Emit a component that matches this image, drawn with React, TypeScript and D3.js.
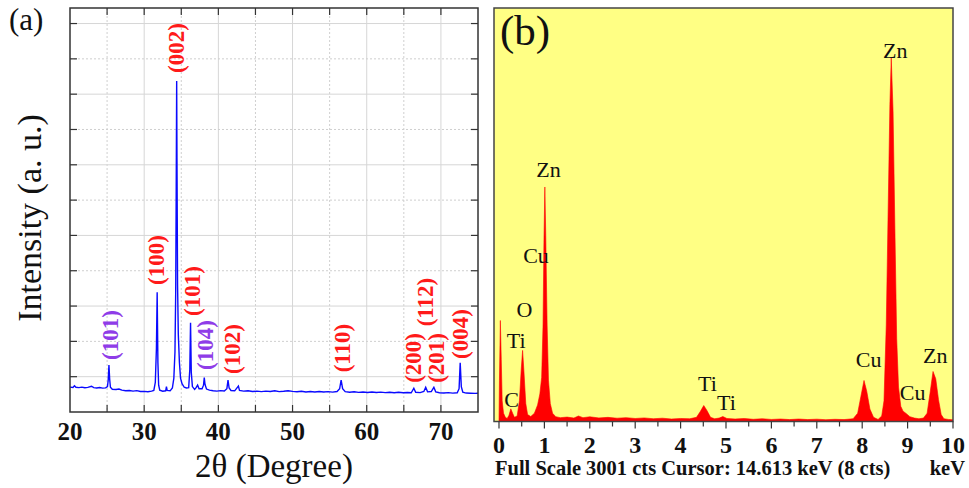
import React from 'react';
import * as d3 from 'd3';

// ---- panel (a): XRD pattern, [2theta, intensity a.u.]
const xrdPoints: [number, number][] = [
  [20.0, 352], [20.4, 348], [20.6, 372], [20.8, 350], [21.2, 345], [21.6, 352], [22.0, 343],
  [22.4, 348], [22.9, 365], [23.2, 345], [23.6, 340], [24.0, 347], [24.4, 338], [24.8, 342],
  [25.05, 360], [25.15, 450], [25.25, 665], [25.35, 460], [25.45, 350], [25.7, 322], [26.2, 318],
  [26.6, 325], [27.0, 310], [27.5, 300], [28.0, 305], [28.5, 296], [29.0, 302], [29.5, 290],
  [30.0, 292], [30.5, 286], [31.0, 295], [31.3, 305], [31.5, 420], [31.65, 900], [31.75, 1695],
  [31.85, 700], [31.95, 380], [32.1, 310], [32.5, 295], [32.9, 300], [33.0, 360], [33.1, 305],
  [33.5, 300], [33.8, 340], [34.0, 480], [34.15, 850], [34.25, 1700], [34.32, 3200], [34.38, 4686],
  [34.42, 3600], [34.5, 1800], [34.6, 1100], [34.75, 700], [34.9, 480], [35.1, 400], [35.4, 350],
  [35.7, 340], [36.0, 345], [36.15, 600], [36.25, 1264], [36.35, 560], [36.5, 360], [36.8, 320],
  [37.0, 345], [37.2, 380], [37.4, 330], [37.8, 330], [38.0, 380], [38.1, 486], [38.2, 390],
  [38.4, 325], [38.8, 310], [39.3, 300], [39.8, 295], [40.3, 302], [40.8, 298], [41.15, 330],
  [41.3, 453], [41.45, 340], [41.7, 305], [42.2, 300], [42.7, 368], [42.85, 305], [43.4, 295],
  [44.0, 300], [44.6, 290], [45.2, 296], [45.8, 288], [46.4, 295], [47.0, 290], [47.6, 300],
  [48.2, 288], [48.8, 293], [49.4, 300], [50.0, 292], [50.6, 286], [51.2, 294], [51.8, 284],
  [52.4, 290], [53.0, 283], [53.6, 291], [54.2, 284], [54.8, 288], [55.4, 282], [56.0, 290],
  [56.35, 330], [56.55, 453], [56.75, 330], [57.1, 288], [57.7, 280], [58.3, 286], [58.9, 278],
  [59.5, 284], [60.1, 277], [60.7, 283], [61.3, 276], [61.9, 282], [62.5, 275], [63.1, 280],
  [63.7, 273], [64.3, 279], [64.9, 272], [65.5, 277], [66.0, 272], [66.35, 336], [66.6, 280],
  [67.2, 274], [67.7, 290], [67.95, 350], [68.2, 285], [68.7, 290], [69.05, 350], [69.3, 285],
  [69.8, 272], [70.4, 268], [71.0, 274], [71.6, 267], [72.2, 272], [72.45, 330], [72.6, 698],
  [72.75, 360], [72.95, 280], [73.4, 268], [74.0, 266], [74.6, 264], [75.0, 265],
];

// peak labels: text, 2theta, intensity at label centre, phase (purple = TiO2)
const xrdLabels: [string, number, number, boolean][] = [
  ['(002)', 34.4, 5154, false],
  ['(100)', 31.7, 2152, false],
  ['(101)', 36.55, 1713, false],
  ['(101)', 25.5, 1090, true],
  ['(104)', 38.3, 949, true],
  ['(102)', 41.9, 892, false],
  ['(110)', 56.7, 906, false],
  ['(200)', 66.3, 765, false],
  ['(112)', 67.9, 1557, false],
  ['(201)', 69.4, 765, false],
  ['(004)', 72.6, 1104, false],
];

const xrdTickLabels = [20, 30, 40, 50, 60, 70];
const xrdMajorX = [30, 40, 50, 60, 70];
const xrdMinorX = [25, 35, 45, 55, 65];
const xrdMajorY = [500, 1500, 2500, 3500, 4500, 5500];
const xrdMinorY = [1000, 2000, 3000, 4000, 5000];

// ---- panel (b): EDS spectrum, [keV, counts]
const edsPoints: [number, number][] = [
  [0.0, 0], [0.01, 300], [0.03, 733], [0.05, 450], [0.07, 150], [0.1, 60], [0.14, 30], [0.18, 22],
  [0.22, 45], [0.26, 92], [0.3, 60], [0.34, 30], [0.4, 40], [0.45, 150], [0.49, 380], [0.52, 516],
  [0.55, 360], [0.59, 130], [0.63, 50], [0.7, 36], [0.78, 60], [0.85, 120], [0.9, 200], [0.94, 320],
  [0.97, 700], [0.99, 1300], [1.01, 1702], [1.03, 1350], [1.06, 700], [1.09, 300], [1.13, 130],
  [1.18, 60], [1.25, 35], [1.35, 28], [1.5, 32], [1.65, 25], [1.75, 40], [1.85, 28], [2.0, 34],
  [2.2, 26], [2.4, 30], [2.6, 24], [2.8, 28], [3.0, 22], [3.2, 26], [3.4, 20], [3.6, 24], [3.8, 18],
  [4.0, 22], [4.2, 20], [4.35, 30], [4.43, 70], [4.51, 116], [4.58, 80], [4.66, 30], [4.75, 20],
  [4.85, 25], [4.93, 36], [5.02, 22], [5.2, 18], [5.4, 22], [5.6, 16], [5.8, 20], [6.0, 15],
  [6.2, 18], [6.4, 14], [6.6, 18], [6.8, 14], [7.0, 17], [7.2, 13], [7.4, 16], [7.6, 14], [7.8, 20],
  [7.9, 60], [7.97, 180], [8.04, 298], [8.1, 220], [8.17, 90], [8.25, 30], [8.35, 15], [8.43, 40],
  [8.48, 150], [8.53, 700], [8.57, 1500], [8.61, 2300], [8.64, 2638], [8.68, 2250], [8.72, 1400],
  [8.76, 600], [8.8, 250], [8.85, 110], [8.9, 75], [8.96, 60], [9.05, 35], [9.15, 25], [9.25, 20],
  [9.35, 25], [9.43, 60], [9.5, 220], [9.56, 363], [9.62, 310], [9.68, 160], [9.74, 50], [9.8, 20],
  [9.9, 15], [10.0, 12],
];

// element labels: text, keV (centre), counts (baseline)
const edsLabels: [string, number, number][] = [
  ['Zn', 8.73, 2638],
  ['Zn', 1.09, 1773],
  ['Cu', 0.815, 1148],
  ['O', 0.56, 756],
  ['Ti', 0.38, 530],
  ['C', 0.28, 104],
  ['Ti', 4.59, 218],
  ['Ti', 5.01, 80],
  ['Cu', 8.14, 392],
  ['Zn', 9.61, 421],
  ['Cu', 9.11, 153],
];

const edsTicks = [0, 1, 2, 3, 4, 5, 6, 7, 8, 9, 10];
const edsMinorTicks = [0.5, 1.5, 2.5, 3.5, 4.5, 5.5, 6.5, 7.5, 8.5, 9.5];

const serif = "'Liberation Serif', 'Times New Roman', serif";

const App = () => {
  const W = 969;
  const H = 488;

  // panel (a) frame
  const aL = 70, aR = 478, aT = 8, aB = 412;
  const xA = d3.scaleLinear().domain([20, 75]).range([aL, aR]);
  const yA = d3.scaleLinear().domain([0, 5720]).range([aB, aT]);
  const xrdLine = d3.line<[number, number]>()
    .x(d => xA(d[0]))
    .y(d => yA(d[1]));

  // panel (b) frame
  const bL = 494, bR = 953, bT = 8, bB = 421.5;
  const xB = d3.scaleLinear().domain([-0.11, 10]).range([bL, bR]);
  const yB = d3.scaleLinear().domain([0, 3001]).range([bB, bT]);
  const edsArea = d3.area<[number, number]>()
    .x(d => xB(d[0]))
    .y0(yB(0))
    .y1(d => yB(d[1]));

  const tickLen = 7;
  const allXTicks = [...xrdMajorX, ...xrdMinorX];
  const allYTicks = [...xrdMajorY, ...xrdMinorY];

  return (
    <svg width={W} height={H} style={{ position: 'absolute', left: 0, top: 0, background: '#fff' }}
      fontFamily={serif}>
      <defs>
        <clipPath id="clipA"><rect x={aL} y={aT} width={aR - aL} height={aB - aT} /></clipPath>
        <clipPath id="clipB"><rect x={bL} y={bT} width={bR - bL} height={bB - bT} /></clipPath>
      </defs>

      {/* ---------- panel (a) ---------- */}
      <rect x={aL} y={aT} width={aR - aL} height={aB - aT} fill="#fff" />
      {xrdMajorX.map(v => (
        <line key={'gx' + v} x1={xA(v)} x2={xA(v)} y1={aT} y2={aB} stroke="#d6d6d6" strokeWidth={1} />
      ))}
      {xrdMinorX.map(v => (
        <line key={'mx' + v} x1={xA(v)} x2={xA(v)} y1={aT} y2={aB} stroke="#cfcfcf" strokeWidth={1} strokeDasharray="2,2" />
      ))}
      {xrdMajorY.map(v => (
        <line key={'gy' + v} x1={aL} x2={aR} y1={yA(v)} y2={yA(v)} stroke="#d6d6d6" strokeWidth={1} />
      ))}
      {xrdMinorY.map(v => (
        <line key={'my' + v} x1={aL} x2={aR} y1={yA(v)} y2={yA(v)} stroke="#cfcfcf" strokeWidth={1} strokeDasharray="2,2" />
      ))}

      <path d={xrdLine(xrdPoints) || ''} fill="none" stroke="#0a0aff" strokeWidth={1.4} clipPath="url(#clipA)" />

      {/* inward ticks on all sides */}
      {allXTicks.map(v => (
        <g key={'tx' + v} stroke="#333" strokeWidth={1.2}>
          <line x1={xA(v)} x2={xA(v)} y1={aB} y2={aB - tickLen} />
          <line x1={xA(v)} x2={xA(v)} y1={aT} y2={aT + tickLen} />
        </g>
      ))}
      {allYTicks.map(v => (
        <g key={'ty' + v} stroke="#333" strokeWidth={1.2}>
          <line x1={aL} x2={aL + tickLen} y1={yA(v)} y2={yA(v)} />
          <line x1={aR} x2={aR - tickLen} y1={yA(v)} y2={yA(v)} />
        </g>
      ))}
      <rect x={aL} y={aT} width={aR - aL} height={aB - aT} fill="none" stroke="#333" strokeWidth={1.5} />

      {xrdTickLabels.map(v => (
        <text key={'lx' + v} x={xA(v)} y={440} textAnchor="middle" fontSize={25} fontWeight="bold" fill="#111">{v}</text>
      ))}

      {xrdLabels.map(([t, x, y, ti], i) => (
        <text key={'pl' + i} transform={`translate(${xA(x)},${yA(y)}) rotate(-90)`}
          textAnchor="middle" dominantBaseline="central" fontSize={23} fontWeight="bold"
          fill={ti ? '#8f3ce8' : '#ff1a1a'}>{t}</text>
      ))}

      <text x={(aL + aR) / 2} y={477} textAnchor="middle" fontSize={33} fill="#111">2θ (Degree)</text>
      <text transform={`translate(41,218) rotate(-90)`} textAnchor="middle" fontSize={34} fill="#111">Intensity (a. u.)</text>
      <text x={9} y={30} fontSize={31} fill="#111">(a)</text>

      {/* ---------- panel (b) ---------- */}
      <rect x={bL} y={bT} width={bR - bL} height={bB - bT} fill="#ffff84" />
      <path d={edsArea(edsPoints) || ''} fill="#ff0000" stroke="#ff0000" strokeWidth={0.6} clipPath="url(#clipB)" />
      <rect x={bL} y={bT} width={bR - bL} height={bB - bT} fill="none" stroke="#444" strokeWidth={1.5} />

      {edsTicks.map(v => (
        <line key={'et' + v} x1={xB(v)} x2={xB(v)} y1={bB} y2={bB + 7} stroke="#333" strokeWidth={1.2} />
      ))}
      {edsMinorTicks.map(v => (
        <line key={'em' + v} x1={xB(v)} x2={xB(v)} y1={bB} y2={bB + 5} stroke="#333" strokeWidth={1.2} />
      ))}
      {edsTicks.map(v => (
        <text key={'el' + v} x={xB(v)} y={453} textAnchor="middle" fontSize={24} fontWeight="bold" fill="#111">{v}</text>
      ))}

      {edsLabels.map(([t, x, y], i) => (
        <text key={'ex' + i} x={xB(x)} y={yB(y)} textAnchor="middle" fontSize={22} fill="#111">{t}</text>
      ))}

      <text x={bL + 6} y={45} fontSize={43} fill="#111">(b)</text>
      <text x={495} y={475} fontSize={20.5} fontWeight="bold" fill="#111">Full Scale 3001 cts Cursor: 14.613 keV (8 cts)</text>
      <text x={965} y={475} textAnchor="end" fontSize={20.5} fontWeight="bold" fill="#111">keV</text>
    </svg>
  );
};

export default App;
